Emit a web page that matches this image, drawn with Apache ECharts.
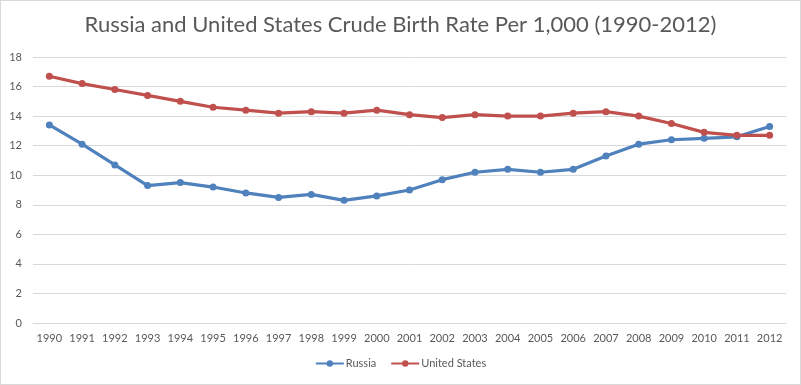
<!DOCTYPE html>
<html>
<head>
<meta charset="utf-8">
<script src="https://cdn.jsdelivr.net/npm/echarts@6/dist/echarts.min.js"></script>
<style>
html,body{margin:0;padding:0;background:#fff;}
#c{width:799px;height:383px;border:1px solid #d9d9d9;}
</style>
</head>
<body>
<div id="c"></div>
<script>
const years = ['1990','1991','1992','1993','1994','1995','1996','1997','1998','1999','2000','2001','2002','2003','2004','2005','2006','2007','2008','2009','2010','2011','2012'];
const russia = [13.4,12.1,10.7,9.3,9.5,9.2,8.8,8.5,8.7,8.3,8.6,9.0,9.7,10.2,10.4,10.2,10.4,11.3,12.1,12.4,12.5,12.6,13.3];
const unitedStates = [16.7,16.2,15.8,15.4,15.0,14.6,14.4,14.2,14.3,14.2,14.4,14.1,13.9,14.1,14.0,14.0,14.2,14.3,14.0,13.5,12.9,12.7,12.7];
const yTicks = [0,2,4,6,8,10,12,14,16,18];

const chart = echarts.init(document.getElementById('c'));
const font = 'Lato, "Open Sans", sans-serif';
chart.setOption({
  animation:false,
  textStyle:{fontFamily:font},
  title:{text:'Russia and United States Crude Birth Rate Per 1,000 (1990-2012)',left:'center',top:8,
    textStyle:{fontFamily:font,fontSize:22,fontWeight:'normal',color:'#595959'}},
  legend:{bottom:10,left:'center',itemWidth:28,itemHeight:8,itemGap:14,
    textStyle:{fontFamily:font,fontSize:11,color:'#595959',padding:[0,0,0,-3]},
    data:['Russia','United States']},
  grid:{left:32,right:14,top:56,bottom:61},
  xAxis:{type:'category',data:years,boundaryGap:true,
    axisLine:{lineStyle:{color:'#d9d9d9'}},axisTick:{show:false},
    axisLabel:{color:'#595959',fontSize:11,margin:10,interval:0}},
  yAxis:{type:'value',min:yTicks[0],max:yTicks[yTicks.length-1],interval:2,
    axisLine:{show:false},axisTick:{show:false},
    splitLine:{lineStyle:{color:'#d9d9d9'}},
    axisLabel:{color:'#595959',fontSize:11,margin:11}},
  series:[
    {name:'Russia',type:'line',data:russia,symbol:'circle',symbolSize:7,
      itemStyle:{color:'#4F81BD'},lineStyle:{width:3.2,color:'#4F81BD'}},
    {name:'United States',type:'line',data:unitedStates,symbol:'circle',symbolSize:7,
      itemStyle:{color:'#C0504D'},lineStyle:{width:3.2,color:'#C0504D'}}
  ]
});
</script>
</body>
</html>
